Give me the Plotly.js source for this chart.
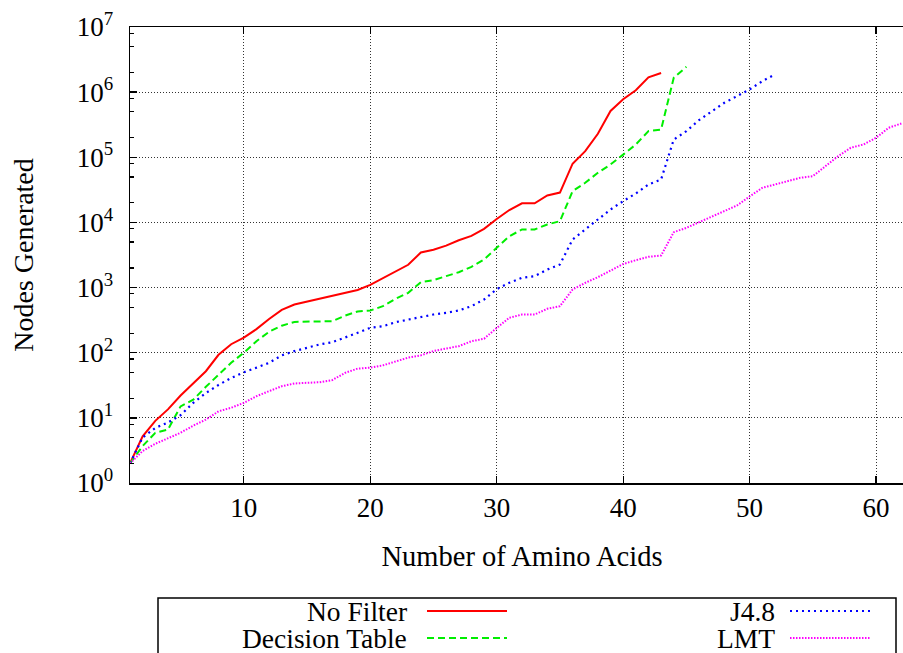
<!DOCTYPE html>
<html>
<head>
<meta charset="utf-8">
<script src="https://cdn.plot.ly/plotly-3.0.1.min.js"></script>
<style>
html, body { margin: 0; padding: 0; overflow: hidden; background: #ffffff; }
#chart { width: 930px; height: 653px; }
</style>
</head>
<body>
<div id="chart"></div>
<script>
// ---- data ----
const seriesNames = ["No Filter", "Decision Table", "J4.8", "LMT"];

const noFilter = [2, 5.2, 9, 13.5, 22, 34, 52, 93, 135, 170,
  230, 330, 455, 550, 610, 670, 740, 820, 920, 1100,
  1390, 1750, 2240, 3450, 3800, 4400, 5330, 6200, 7970, 11300,
  15500, 19700, 19700, 26000, 28700, 79700, 124000, 230000, 515000, 780000,
  1070000, 1690000, 1970000];

const decisionTable = [2, 3.7, 5.9, 6.6, 15, 19, 30, 46, 70, 100,
  150, 210, 260, 297, 300, 300, 305, 370, 430, 445,
  518, 671, 830, 1210, 1300, 1500, 1720, 2080, 2700, 4080,
  6150, 7790, 7790, 9300, 10450, 30200, 40600, 57800, 77500, 110000,
  157000, 252000, 267000, 1660000, 2450000];

const j48 = [2, 5, 7, 8.5, 11, 17, 24, 32, 41, 50,
  59, 70, 91, 106, 119, 134, 145, 169, 202, 241,
  255, 294, 324, 356, 386, 410, 445, 518, 656, 946,
  1183, 1413, 1497, 1895, 2262, 5470, 7790, 11100, 15800, 21200,
  27800, 38200, 45600, 187000, 252000, 372000, 510000, 686000, 867000, 1100000,
  1470000, 1870000];

const lmt = [2, 3.1, 4.0, 4.9, 5.9, 7.6, 9.4, 12.6, 14.3, 17,
  21.5, 25.7, 30.6, 33.7, 34.5, 35.3, 38, 49, 57, 59,
  64, 74, 84, 91, 106, 116, 126, 150, 164, 240,
  344, 386, 386, 472, 518, 934, 1183, 1443, 1829, 2300,
  2630, 2965, 3105, 7080, 8260, 10100, 12500, 14900, 18200, 25000,
  34000, 38200, 43000, 48400, 51300, 73100, 104000, 140000, 157000, 199000,
  284000, 330000];

const xTickVals = [10, 20, 30, 40, 50, 60];
const xTickText = ["10", "20", "30", "40", "50", "60"];
const yTickVals = [1, 10, 100, 1000, 10000, 100000, 1000000, 10000000];
const yTickText = ["10<sup>0</sup>", "10<sup>1</sup>", "10<sup>2</sup>", "10<sup>3</sup>",
                   "10<sup>4</sup>", "10<sup>5</sup>", "10<sup>6</sup>", "10<sup>7</sup>"];
const yMinorVals = [2, 5, 8, 20, 50, 80, 200, 500, 800, 2000, 5000, 8000,
  20000, 50000, 80000, 200000, 500000, 800000, 2000000, 5000000, 8000000];

// ---- styles ----
const colors = ["#ff0000", "#00ee00", "#0000ff", "#ff00ff"];
const dashes = ["solid", "7px,4px", "2px,4px", "1.5px,1.5px"];
const widths = [2, 2, 2.2, 2];
const FONT = '"Liberation Serif", "Times New Roman", serif';

const W = 930, H = 653;
const M = { l: 130, r: 16, t: 27, b: 170 };
const plotW = W - M.l - M.r, plotH = H - M.t - M.b;
function px(x) { return (x - M.l) / plotW; }
function py(y) { return (H - M.b - y) / plotH; }

const allSeries = [noFilter, decisionTable, j48, lmt];
const traces = allSeries.map((vals, i) => ({
  type: "scatter",
  mode: "lines",
  name: seriesNames[i],
  x: vals.map((_, k) => k + 1),
  y: vals,
  line: { color: colors[i], width: widths[i], dash: dashes[i] },
  showlegend: false,
  hoverinfo: "x+y+name"
}));

// custom gnuplot-style key (text right aligned, sample to the right)
const keyRows = [
  { text: seriesNames[0], tx: 409, sx0: 427, sx1: 507, y: 611, s: 0 },
  { text: seriesNames[1], tx: 409, sx0: 427, sx1: 507, y: 638, s: 1 },
  { text: seriesNames[2], tx: 777, sx0: 790, sx1: 870, y: 611, s: 2 },
  { text: seriesNames[3], tx: 777, sx0: 790, sx1: 870, y: 638, s: 3 }
];
const shapes = [{
  type: "rect", xref: "paper", yref: "paper",
  x0: px(158), x1: px(896), y0: py(598), y1: py(690),
  line: { color: "#000", width: 1.5 }, fillcolor: "rgba(0,0,0,0)"
}];
const annotations = [];
keyRows.forEach(r => {
  shapes.push({
    type: "line", xref: "paper", yref: "paper",
    x0: px(r.sx0), x1: px(r.sx1), y0: py(r.y), y1: py(r.y),
    line: { color: colors[r.s], width: widths[r.s], dash: dashes[r.s] }
  });
  annotations.push({
    xref: "paper", yref: "paper", x: px(r.tx), y: py(r.y),
    xanchor: "right", yanchor: "middle", showarrow: false,
    text: r.text, font: { family: FONT, size: 27.5, color: "#000" }
  });
});

const layout = {
  width: W, height: H,
  margin: M,
  paper_bgcolor: "#fff", plot_bgcolor: "#fff",
  font: { family: FONT, size: 27, color: "#000" },
  showlegend: false,
  xaxis: {
    range: [1, 63],
    tickmode: "array", tickvals: xTickVals, ticktext: xTickText,
    ticks: "inside", ticklen: 7, tickwidth: 1.3, tickcolor: "#000",
    showline: true, linecolor: "#000", linewidth: 1.5, mirror: "ticks",
    showgrid: true, gridcolor: "#333", gridwidth: 1, griddash: "1px,2px",
    zeroline: false,
    tickfont: { family: FONT, size: 27, color: "#000" },
    title: { text: "Number of Amino Acids", font: { family: FONT, size: 28.5, color: "#000" }, standoff: 24 }
  },
  yaxis: {
    type: "log", range: [0, 7],
    tickmode: "array", tickvals: yTickVals, ticktext: yTickText,
    ticks: "inside", ticklen: 7, tickwidth: 1.3, tickcolor: "#000",
    showline: true, linecolor: "#000", linewidth: 1.5, mirror: "ticks",
    showgrid: true, gridcolor: "#333", gridwidth: 1, griddash: "1px,2px",
    zeroline: false,
    ticklabelstandoff: 10,
    tickfont: { family: FONT, size: 27, color: "#000" },
    minor: { tickmode: "array", tickvals: yMinorVals, ticks: "inside", ticklen: 3.5,
             tickwidth: 1.2, tickcolor: "#000", showgrid: false },
    title: { text: "Nodes Generated", font: { family: FONT, size: 28, color: "#000" }, standoff: 35 }
  },
  shapes: shapes,
  annotations: annotations
};

Plotly.newPlot("chart", traces, layout, { displayModeBar: false, staticPlot: true });
</script>
</body>
</html>
